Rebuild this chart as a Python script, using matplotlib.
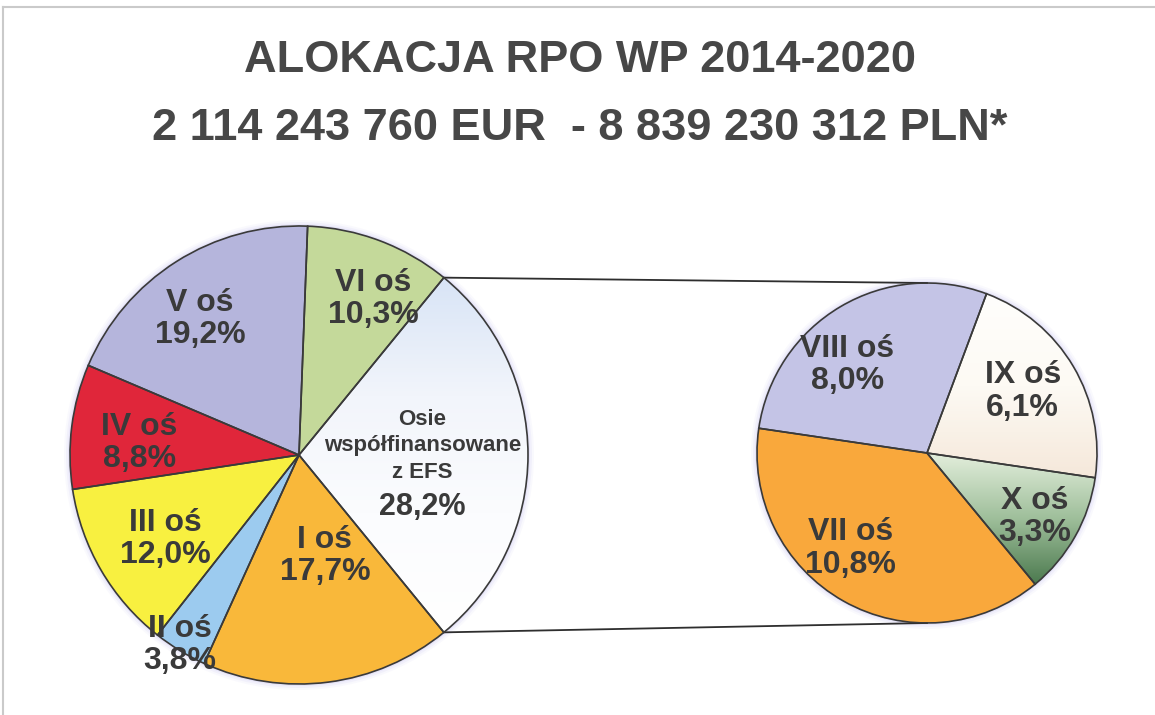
# %% imports
import numpy as np
import matplotlib.pyplot as plt
from matplotlib.colors import LinearSegmentedColormap
from matplotlib.lines import Line2D
from matplotlib.patches import Circle

plt.rcParams['font.family'] = ['Liberation Sans', 'DejaVu Sans']

# %% data
title_1 = 'ALOKACJA RPO WP 2014-2020'
title_2 = '2 114 243 760 EUR  - 8 839 230 312 PLN*'

# main pie: share of the whole allocation (%)
main_names = ['Osie\nwspółfinansowane\nz EFS', 'VI oś', 'V oś', 'IV oś', 'III oś', 'II oś', 'I oś']
main_values = [28.2, 10.3, 19.2, 8.8, 12.0, 3.8, 17.7]

# secondary pie: the EFS part split by axis (%)
sub_names = ['VIII oś', 'VII oś', 'X oś', 'IX oś']
sub_values = [8.0, 10.8, 3.3, 6.1]

# %% style
main_colors = ['#f4f6fc', '#c4d99a', '#b5b5dc', '#e0263a', '#f8f040', '#9ccbef', '#f9b83a']
sub_colors = ['#c4c4e6', '#f9a83c', '#a8c4a0', '#fdf8ee']
txt_col = '#3a3a3a'
edge_col = '#3a3a3a'

# label radius (fraction of r) and angle nudge (deg) per wedge
main_lr = [0.54, 0.755, 0.735, 0.70, 0.69, 0.98, 0.455]
main_nudge = [4.2, -4.7, 3.6, 2.9, 1.8, -0.7, 7.0]
sub_lr = [0.70, 0.72, 0.735, 0.67]
sub_nudge = [11.5, -9.2, -1.4, 2.2]

# gradients (colours from bottom to top) for some wedges
main_grad = {0: ['#ffffff', '#fbfcfe', '#f2f5fb', '#d8e4f6']}
sub_grad = {3: ['#f5e8da', '#fdfaf4', '#fffefc'], 2: ['#4c7a4f', '#9fbf9b', '#e4efdd']}

W, H = 1155, 715
c_main, r_main = (299, H - 455), 229
c_sub, r_sub = (927, H - 453), 170


def pct(v):
    return f'{v:.1f}%'.replace('.', ',')


def draw_pie(ax, values, colors, center, radius, start, grads):
    # soft bluish halo like in the scanned original
    for k, al in [(6, 0.05), (4, 0.08), (2, 0.12)]:
        ax.add_patch(Circle(center, radius + k, color='#9a8ee6', alpha=al, lw=0, zorder=0.5))
    wedges, _ = ax.pie(values, colors=colors, startangle=start, counterclock=True,
                       center=center, radius=radius,
                       wedgeprops=dict(edgecolor='none', linewidth=0))
    for i, cols in grads.items():
        w = wedges[i]
        ext = w.get_path().get_extents(w.get_transform() - ax.transData)
        cmap = LinearSegmentedColormap.from_list('g', cols)
        grad = np.linspace(0, 1, 256).reshape(-1, 1)
        ax.imshow(grad, cmap=cmap, origin='lower', aspect='auto',
                  extent=[ext.x0, ext.x1, ext.y0, ext.y1],
                  clip_path=w, zorder=1.5)
    ax.pie(values, colors=['none'] * len(values), startangle=start,
           counterclock=True, center=center, radius=radius,
           wedgeprops=dict(edgecolor=edge_col, linewidth=1.2, zorder=2))
    return wedges


def label_pos(wedges, center, radius, lrs, nudges):
    out = []
    for w, lr, nd in zip(wedges, lrs, nudges):
        a = np.deg2rad((w.theta1 + w.theta2) / 2 + nd)
        out.append((center[0] + lr * radius * np.cos(a),
                    center[1] + lr * radius * np.sin(a)))
    return out


# %% figure
fig = plt.figure(figsize=(W / 100, H / 100), dpi=100)
ax = fig.add_axes([0, 0, 1, 1])

start_main = -main_values[0] / sum(main_values) * 180
mw = draw_pie(ax, main_values, main_colors, c_main, r_main, start_main, main_grad)
sw = draw_pie(ax, sub_values, sub_colors, c_sub, r_sub, 69.5, sub_grad)

# labels on main pie
pos = label_pos(mw, c_main, r_main, main_lr, main_nudge)
for i, ((x, y), name, v) in enumerate(zip(pos, main_names, main_values)):
    if i == 0:
        ax.text(x, y, name, ha='center', va='center', fontsize=16, fontweight='bold',
                color=txt_col, linespacing=1.35, zorder=5)
        ax.annotate(pct(v), (x, y), xytext=(0, -61), textcoords='offset pixels',
                    ha='center', va='center', fontsize=22, fontweight='bold',
                    color=txt_col, zorder=5)
    else:
        ax.text(x, y, f'{name}\n{pct(v)}', ha='center', va='center', fontsize=23,
                fontweight='bold', color=txt_col, linespacing=1.1, zorder=5)

# labels on secondary pie
pos = label_pos(sw, c_sub, r_sub, sub_lr, sub_nudge)
for (x, y), name, v in zip(pos, sub_names, sub_values):
    ax.text(x, y, f'{name}\n{pct(v)}', ha='center', va='center', fontsize=23,
            fontweight='bold', color=txt_col, linespacing=1.1, zorder=5)

# connector lines from the EFS wedge to the top / bottom of the small pie
efs = mw[0]
for th, sgn in [(efs.theta2, 1), (efs.theta1, -1)]:
    a = np.deg2rad(th)
    x0 = c_main[0] + r_main * np.cos(a)
    y0 = c_main[1] + r_main * np.sin(a)
    ax.plot([x0, c_sub[0]], [y0, c_sub[1] + sgn * r_sub], color='#2e2e2e', lw=1.3, zorder=1)

ax.set_xlim(0, W)
ax.set_ylim(0, H)
ax.set_aspect('equal')
ax.axis('off')

# titles
fig.text(580 / W, 1 - 72 / H, title_1, ha='center', va='baseline', fontsize=32.5,
         fontweight='bold', color='#474747')
fig.text(580 / W, 1 - 140 / H, title_2, ha='center', va='baseline', fontsize=32.5,
         fontweight='bold', color='#474747')

# page frame (top and left edges)
fig.add_artist(Line2D([3 / W, 1], [1 - 7 / H, 1 - 7 / H], transform=fig.transFigure,
                      color='#cacaca', lw=1.5))
fig.add_artist(Line2D([3 / W, 3 / W], [0, 1 - 7 / H], transform=fig.transFigure,
                      color='#cacaca', lw=1.5))

fig.savefig('out.png', dpi=100)
